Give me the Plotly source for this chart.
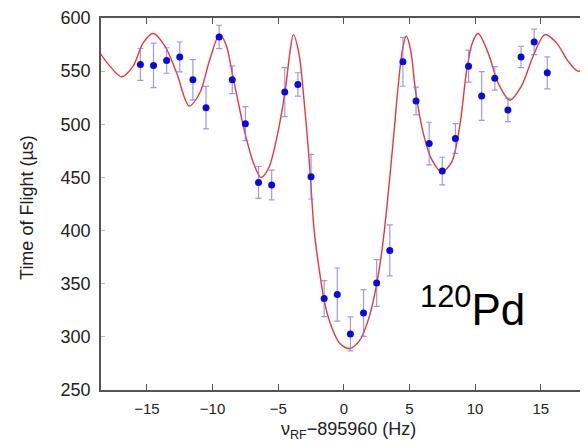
import plotly.graph_objects as go

# Measured points
freq = [-15.5, -14.5, -13.5, -12.5, -11.5, -10.5, -9.5, -8.5, -7.5, -6.5, -5.5, -4.5,
        -3.5, -2.5, -1.5, -0.5, 0.5, 1.5, 2.5, 3.5, 4.5, 5.5, 6.5, 7.5, 8.5, 9.5,
        10.5, 11.5, 12.5, 13.5, 14.5, 15.5]
tof = [556.3, 555.4, 560.0, 563.4, 541.9, 515.6, 582.2, 541.9, 500.6, 445.3, 442.9, 530.3,
       537.5, 450.7, 336.0, 339.8, 302.8, 322.5, 350.6, 381.3, 558.8, 521.9, 481.9, 456.0,
       486.6, 554.7, 526.6, 543.2, 513.5, 563.4, 577.5, 548.4]
tof_err = [15, 21, 12, 14, 19, 20, 11, 13, 16, 15, 14, 23, 11, 21, 17, 25, 16, 22, 22, 24,
           23, 13, 20, 13, 14, 15, 23, 11, 11, 10, 12, 15]

# Fit curve
fit_x = [-18.58, -17.82, -16.93, -16.05, -15.29, -14.52, -13.63, -12.74, -11.78, -10.97,
         -10.21, -9.45, -8.95, -8.5, -8.05, -7.54, -6.9, -6.32, -5.76, -5.13, -4.49, -4.11,
         -3.85, -3.43, -2.97, -2.59, -2.26, -1.83, -1.45, -0.94, -0.3, 0.46, 1.22, 1.85,
         2.36, 2.87, 3.25, 3.75, 4.14, 4.47, 4.75, 5.08, 5.48, 6.04, 6.68, 7.44, 8.2, 8.83,
         9.35, 9.8, 10.23, 10.99, 11.75, 12.64, 13.53, 14.42, 15.31, 16.2, 17.08, 17.84, 18.58]
fit_y = [567.2, 554.7, 544.7, 554.7, 576.6, 585.4, 573.5, 548.4, 517.2, 529.7,
         561.0, 584.8, 574.0, 548.0, 521.0, 492.2, 464.1, 450.0, 457.9, 486.0, 529.7, 567.2,
         584.4, 567.2, 514.1, 457.9, 400.0, 359.4, 331.3, 309.4, 293.8, 289.1, 296.9, 315.6,
         340.7, 378.2, 418.8, 482.8, 536.0, 570.4, 583.0, 570.4, 529.7, 492.2, 467.2, 455.3, 464.1, 498.5,
         550.0, 577.0, 585.4, 567.2, 539.0, 522.8, 536.0, 564.0, 584.4, 576.6, 559.4, 550.0, 553.1]

x_ticks = [-15, -10, -5, 0, 5, 10, 15]
y_ticks = [250, 300, 350, 400, 450, 500, 550, 600]

FONT = "Liberation Sans, Arial, Helvetica, sans-serif"

fig = go.Figure()
fig.add_trace(go.Scatter(
    x=fit_x, y=fit_y, mode="lines",
    line=dict(color="#e8383c", width=1.4, shape="spline", smoothing=0.9),
    hoverinfo="skip", showlegend=False))
fig.add_trace(go.Scatter(
    x=freq, y=tof, mode="markers",
    marker=dict(color="#0a0ae0", size=7),
    error_y=dict(type="data", array=tof_err, visible=True,
                 color="rgba(120,120,225,0.75)", thickness=1.2, width=3),
    showlegend=False))

fig.update_layout(
    width=580, height=440,
    margin=dict(l=93, r=0, t=8, b=58),
    paper_bgcolor="white", plot_bgcolor="white",
    font=dict(family=FONT, color="#222"),
    xaxis=dict(range=[-18.5, 18.6], tickvals=x_ticks, ticks="inside", ticklen=6,
               tickcolor="#555", showgrid=False, zeroline=False, showline=True,
               linecolor="#555", linewidth=1.5, mirror="ticks",
               tickfont=dict(size=15, family=FONT, color="#222"), ticklabelstandoff=4),
    yaxis=dict(range=[250, 600], tickvals=y_ticks, ticks="inside", ticklen=4,
               tickcolor="#bbb", showgrid=False, zeroline=False, showline=True,
               linecolor="#555", linewidth=1.5, ticklabeloverflow="allow",
               tickfont=dict(size=18, family=FONT, color="#222"), ticklabelstandoff=5),
    annotations=[
        dict(text="Time of Flight (µs)", xref="paper", yref="paper", x=-0.152, y=0.492,
             xanchor="center", yanchor="middle", textangle=-90, showarrow=False,
             font=dict(size=18, family=FONT, color="#222")),
        dict(text="ν<sub>RF</sub>−895960 (Hz)", xref="paper", yref="paper", x=0.509, y=-0.108,
             xanchor="center", yanchor="middle", showarrow=False,
             font=dict(size=18, family=FONT, color="#222")),
        dict(text="<sup>120</sup>Pd", xref="x", yref="y", x=9.8, y=329,
             xanchor="center", yanchor="middle", showarrow=False,
             font=dict(size=44, family=FONT, color="black")),
    ],
)

fig.write_html("out.html")
